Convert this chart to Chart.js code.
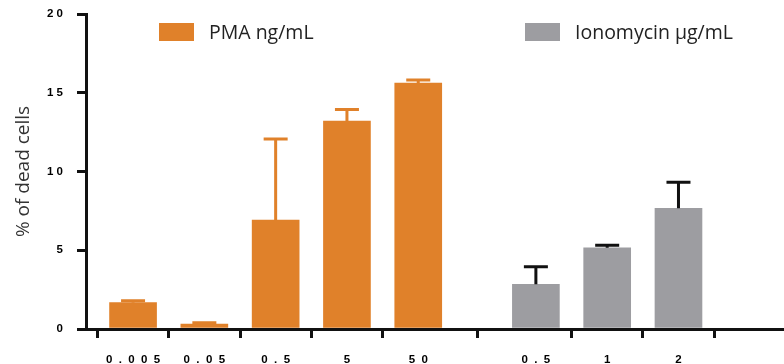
<!DOCTYPE html>
<html>
<head>
<meta charset="utf-8">
<script src="https://cdn.jsdelivr.net/npm/chart.js@4/dist/chart.umd.min.js"></script>
<style>
  html, body { margin: 0; padding: 0; background: #fff; }
  #wrap { width: 784px; height: 364px; }
</style>
</head>
<body>
<div id="wrap"><canvas id="chart" width="784" height="364"></canvas></div>
<script>
// doses and readings (% of dead cells)
const pmaDoses = ["0.005", "0.05", "0.5", "5", "50"];
const ionoDoses = ["0.5", "1", "2"];
const pmaDead = [1.67, 0.32, 6.92, 13.2, 15.62];
const pmaErr = [0.13, 0.08, 5.14, 0.74, 0.19];
const ionoDead = [2.84, 5.16, 7.66];
const ionoErr = [1.12, 0.15, 1.65];
const yTicks = [0, 5, 10, 15, 20];

// slot on the x axis of each bar (prism leaves a gap between the groups)
const pmaSlots = [1, 2, 3, 4, 5];
const ionoSlots = [6.65, 7.65, 8.65];
const spareSlots = [9.65]; // empty tick at the end of the axis

const ORANGE = "#e0812a";
const GREY = "#9d9da1";

const allSlots = pmaSlots.concat(ionoSlots, spareSlots);
const allLabels = pmaDoses.concat(ionoDoses, [""]);

// spaced out digits like the original export
const spaced = (s, gap) => s.split("").join(gap);

// error bars (upper only) drawn on top of the bars
const errorBars = {
  id: "errorBars",
  afterDatasetsDraw(chart) {
    const ctx = chart.ctx;
    const y = chart.scales.y;
    chart.data.datasets.forEach((ds, i) => {
      const meta = chart.getDatasetMeta(i);
      ctx.save();
      ctx.strokeStyle = ds.errColor;
      ctx.lineWidth = 3;
      meta.data.forEach((bar, j) => {
        const top = y.getPixelForValue(ds.data[j].y + ds.errors[j]);
        ctx.beginPath();
        ctx.moveTo(bar.x, bar.y);
        ctx.lineTo(bar.x, top);
        ctx.moveTo(bar.x - 12, top);
        ctx.lineTo(bar.x + 12, top);
        ctx.stroke();
      });
      ctx.restore();
    });
  },
};

// legend sits inside the plot, items spread apart
const insideLegend = {
  id: "insideLegend",
  afterDraw(chart) {
    const ctx = chart.ctx;
    const spots = [159, 525];
    ctx.save();
    ctx.font = "19.5px 'Open Sans', sans-serif";
    ctx.textBaseline = "middle";
    chart.data.datasets.forEach((ds, i) => {
      const x = spots[i];
      ctx.fillStyle = ds.backgroundColor;
      ctx.fillRect(x, 23, 35, 18);
      ctx.fillStyle = "#222";
      ctx.fillText(ds.label, x + 50, 33);
    });
    ctx.restore();
  },
};

const ctx = document.getElementById("chart").getContext("2d");
new Chart(ctx, {
  type: "bar",
  data: {
    datasets: [
      {
        label: "PMA ng/mL",
        data: pmaSlots.map((s, i) => ({ x: s, y: pmaDead[i] })),
        errors: pmaErr,
        backgroundColor: ORANGE,
        errColor: ORANGE,
      },
      {
        label: "Ionomycin μg/mL",
        data: ionoSlots.map((s, i) => ({ x: s, y: ionoDead[i] })),
        errors: ionoErr,
        backgroundColor: GREY,
        errColor: "#111",
      },
    ],
  },
  options: {
    responsive: false,
    animation: false,
    grouped: false,
    barThickness: 47,
    layout: { padding: { top: 14, right: 0, left: 0, bottom: 0 } },
    plugins: {
      legend: { display: false },
      tooltip: { enabled: false },
    },
    scales: {
      x: {
        type: "linear",
        offset: false,
        min: 0.34,
        max: 10.13,
        afterBuildTicks: (scale) => {
          scale.ticks = allSlots.map((v) => ({ value: v }));
        },
        afterFit: (scale) => {
          scale.height = 35;
          scale.paddingLeft = 0;
          scale.paddingRight = 0;
        },
        ticks: {
          autoSkip: false,
          maxRotation: 0,
          padding: 15,
          color: "#000",
          font: { family: "'Liberation Sans', Arial, sans-serif", size: 11.5, weight: "bold" },
          callback: (v) => {
            const i = allSlots.findIndex((s) => Math.abs(s - v) < 0.01);
            return i < 0 ? "" : spaced(allLabels[i], "  ");
          },
        },
        grid: { drawOnChartArea: false, drawTicks: true, tickLength: 9, lineWidth: 3, color: "#111" },
        border: { display: true, width: 3, color: "#111" },
      },
      y: {
        min: 0,
        max: 20,
        afterBuildTicks: (scale) => {
          scale.ticks = yTicks.map((v) => ({ value: v }));
        },
        afterFit: (scale) => {
          scale.width = 86;
          scale.paddingTop = 0;
          scale.paddingBottom = 0;
        },
        ticks: {
          padding: 14,
          color: "#000",
          font: { family: "'Liberation Sans', Arial, sans-serif", size: 11.5, weight: "bold" },
          callback: (v) => spaced(String(v), " "),
        },
        grid: { drawOnChartArea: false, drawTicks: true, tickLength: 9, lineWidth: 3, color: "#111" },
        border: { display: true, width: 3, color: "#111" },
        title: {
          display: true,
          text: "% of dead cells",
          color: "#333",
          padding: { top: 12, bottom: 0 },
          font: { family: "'Open Sans', sans-serif", size: 19, weight: "normal" },
        },
      },
    },
  },
  plugins: [errorBars, insideLegend],
});
</script>
</body>
</html>
